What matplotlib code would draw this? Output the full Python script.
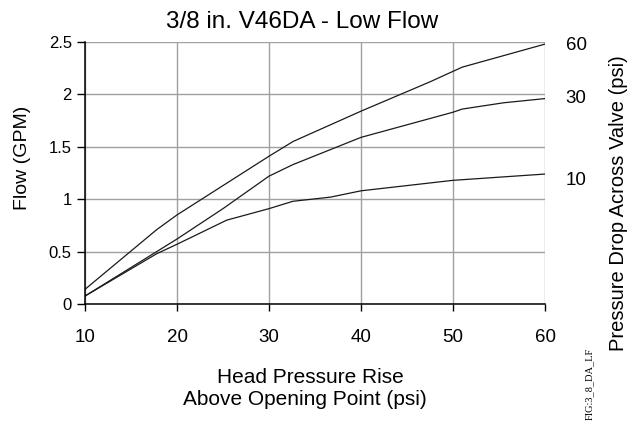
import matplotlib
matplotlib.use("Agg")
import matplotlib.pyplot as plt

plt.rcParams['font.family'] = ['Liberation Sans', 'DejaVu Sans']

x60 = [10, 17.8, 20, 25, 30, 32.6, 40, 47.5, 50, 51, 60]
y60 = [0.14, 0.71, 0.85, 1.13, 1.41, 1.55, 1.84, 2.12, 2.22, 2.26, 2.48]
x30 = [10, 20, 25, 30, 32.6, 40, 50, 51, 55.5, 60]
y30 = [0.076, 0.62, 0.91, 1.22, 1.33, 1.59, 1.83, 1.86, 1.92, 1.96]
x10 = [10, 17.8, 20, 25.4, 30, 32.6, 36.7, 40, 50, 60]
y10 = [0.076, 0.48, 0.57, 0.80, 0.91, 0.98, 1.02, 1.08, 1.18, 1.24]

drop_labels = ['60', '30', '10']
drop_label_y = [2.464, 1.963, 1.18]

xticks = [10, 20, 30, 40, 50, 60]
yticks = [0, 0.5, 1, 1.5, 2, 2.5]
yticklabels = ['0', '0.5', '1', '1.5', '2', '2.5']

W, H = 630, 422
fig = plt.figure(figsize=(6.3, 4.22), dpi=100)
ax = fig.add_axes([85/W, 1-304/H, 460/W, 262/H])

for xs, ys in [(x60, y60), (x30, y30), (x10, y10)]:
    ax.plot(xs, ys, color='#1a1a1a', lw=0.9)

ax.set_xlim(10, 60)
ax.set_ylim(0, 2.5)
ax.set_xticks(xticks)
ax.set_yticks(yticks)
ax.set_yticklabels(yticklabels)
ax.grid(True, color='#a0a0a0', lw=1.0)
ax.set_axisbelow(True)
for s in ['top', 'right']:
    ax.spines[s].set_visible(False)
for s in ['left', 'bottom']:
    ax.spines[s].set_color('black')
    ax.spines[s].set_linewidth(1.1)
ax.tick_params(axis='y', labelsize=12, length=6, width=1.0, pad=3.5, direction='out')
ax.tick_params(axis='x', labelsize=13.5, length=5, width=1.0, pad=13, direction='out')

for lab, yy in zip(drop_labels, drop_label_y):
    ax.text(63.37, yy, lab, fontsize=13.5, ha='center', va='center', clip_on=False)

fig.text(302/W, 1-28/H, '3/8 in. V46DA - Low Flow', fontsize=17.5, ha='center', va='baseline')
fig.text(27/W, 1-158/H, 'Flow (GPM)', fontsize=14, rotation=90, rotation_mode='anchor',
         ha='center', va='baseline')
fig.text(310/W, 1-383/H, 'Head Pressure Rise', fontsize=15, ha='center', va='baseline')
fig.text(305/W, 1-405/H, 'Above Opening Point (psi)', fontsize=15, ha='center', va='baseline')
fig.text(624/W, 1-203/H, 'Pressure Drop Across Valve (psi)', fontsize=14.5,
         rotation=90, rotation_mode='anchor', ha='center', va='baseline')
fig.text(592/W, 1-384/H, 'FIG:3_8_DA_LF', fontsize=7.5, rotation=90,
         rotation_mode='anchor', ha='center', va='baseline',
         family=['Liberation Serif', 'DejaVu Serif'])

fig.savefig('out.png', dpi=100)
